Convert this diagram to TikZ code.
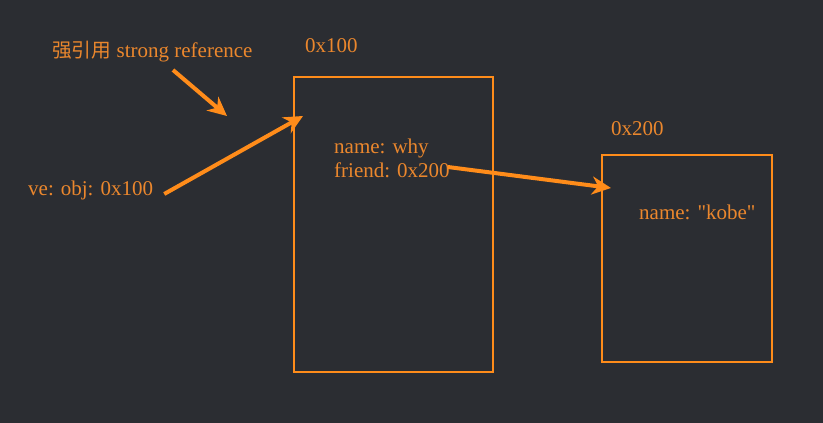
\documentclass[tikz,border=0pt]{standalone}
\usepackage{fontspec}
\setmainfont{Liberation Serif}[Ligatures=TeXOff]
\newfontfamily\cjk[Scale=0.94]{Noto Sans CJK SC}
\usetikzlibrary{positioning,arrows.meta}
\definecolor{bgcolor}{RGB}{43,45,50}
\definecolor{linecolor}{RGB}{255,140,26}
\definecolor{textcolor}{RGB}{235,135,45}

\begin{document}
\begin{tikzpicture}[%
    x=1pt, y=-1pt,                  % Pixel-like units, top-down
    >={Stealth[length=19pt,width=18pt,inset=6pt]},
    ]
\tikzset{
  label/.style={text=textcolor, anchor=west, inner sep=0pt,
    font=\fontsize{21}{24}\selectfont},
  mem/.style={draw=linecolor, line width=2pt, inner sep=0pt},
  ref/.style={->, draw=linecolor, line width=4pt},
}

\fill [bgcolor] (0,0) rectangle (823,423);
\useasboundingbox (0,0) rectangle (823,423);

\node [mem, minimum width=199pt, minimum height=295pt] (obj) at (393.5,224.5) {};
\node [mem, minimum width=170pt, minimum height=207pt] (kobe) at (687,258.5) {};

\node [label] (addr1) at (305,46) {0x100};
\node [label] (addr2) at (611,129) {0x200};
\node [label] (strong) at (52,52) {{\cjk 强引用} strong reference};
\node [label] (var) at (28,190) {ve: obj: 0x100};
\node [label] (name1) at (334,148) {name: why};
\node [label] (friend) at (334,170) {friend: 0x200};
\node [label] (name2) at (639,212) {name: "kobe"};

\coordinate (hint) at (227,116);
\coordinate (objin) at (303,116);
\coordinate (kobein) at (611,188);

%connect
\draw [ref] (173,70) -- (hint);
\draw [ref] ([xshift=11pt,yshift=-4pt]var.east) -- (objin);
\draw [ref] ([xshift=-2pt,yshift=3pt]friend.east) -- (kobein);

\end{tikzpicture}
\end{document}
